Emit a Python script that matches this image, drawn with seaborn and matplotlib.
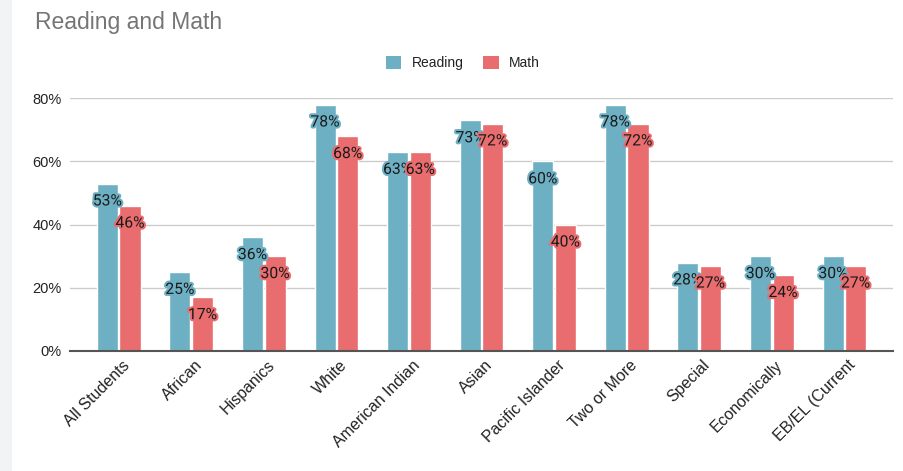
import matplotlib
matplotlib.use("Agg")
import matplotlib.pyplot as plt
import matplotlib.patheffects as pe
from matplotlib.patches import Patch, Rectangle
from matplotlib.transforms import ScaledTranslation
import pandas as pd
import seaborn as sns

# Proficiency rates (%) by student group
groups = ["All Students", "African", "Hispanics", "White", "American Indian",
          "Asian", "Pacific Islander", "Two or More", "Special",
          "Economically", "EB/EL (Current"]
reading = [53, 25, 36, 78, 63, 73, 60, 78, 28, 30, 30]
math = [46, 17, 30, 68, 63, 72, 40, 72, 27, 24, 27]
y_ticks = [0, 20, 40, 60, 80]

colors = {"Reading": "#6db0c3", "Math": "#e96c6e"}

df = pd.DataFrame({
    "Group": groups * 2,
    "Subject": ["Reading"] * len(groups) + ["Math"] * len(groups),
    "Score": reading + math,
})

sns.set_theme(style="white")
plt.rcParams["font.family"] = ["Liberation Sans", "DejaVu Sans"]

fig = plt.figure(figsize=(9.04, 4.71), dpi=100)
fig.patch.set_facecolor("white")
# light side strip on the left edge
fig.add_artist(Rectangle((0, 0), 12 / 904, 1, transform=fig.transFigure,
                         facecolor="#f1f3f4", edgecolor="none", zorder=0))

ax = fig.add_axes([70 / 904, 1 - 351 / 471, 823 / 904, (351 - 98.3) / 471])
sns.barplot(data=df, x="Group", y="Score", hue="Subject", order=groups,
            hue_order=["Reading", "Math"], palette=colors, width=0.624,
            gap=0.07, saturation=1, legend=False, ax=ax, zorder=3)

ax.set_xlim(-0.671, 10.67)
ax.set_ylim(0, 80)
ax.set_yticks(y_ticks)
ax.set_yticklabels([f"{t}%" for t in y_ticks], fontsize=10.5, color="#222222")
ax.yaxis.grid(True, color="#cccccc", linewidth=1, zorder=0)
ax.set_axisbelow(True)
for side in ["top", "right", "left"]:
    ax.spines[side].set_visible(False)
ax.spines["bottom"].set_color("#555555")
ax.spines["bottom"].set_linewidth(1.5)
ax.spines["bottom"].set_zorder(4)
ax.tick_params(axis="both", length=0)
ax.tick_params(axis="y", pad=6)
ax.set_xlabel("")
ax.set_ylabel("")

offset = ScaledTranslation(6 / 72, -5 / 72, fig.dpi_scale_trans)
for lbl in ax.get_xticklabels():
    lbl.set_rotation(45)
    lbl.set_ha("right")
    lbl.set_va("center")
    lbl.set_rotation_mode("anchor")
    lbl.set_fontsize(11.5)
    lbl.set_color("#222222")
    lbl.set_transform(lbl.get_transform() + offset)

# value labels with a halo in the bar colour
for container, values, name in zip(ax.containers, [reading, math], ["Reading", "Math"]):
    for bar, v in zip(container.patches, values):
        cx = bar.get_x() + bar.get_width() / 2
        ax.annotate(f"{v}%", (cx, v), xytext=(0, -12.5), textcoords="offset points",
                    ha="center", va="center", fontsize=11.3, color="#1a1a1a",
                    family=["Roboto", "DejaVu Sans"], zorder=6,
                    path_effects=[pe.withStroke(linewidth=3, foreground=colors[name])])

handles = [Patch(facecolor=colors[k], edgecolor="none") for k in ["Reading", "Math"]]
fig.legend(handles, ["Reading", "Math"], loc="center", bbox_to_anchor=(0.512, 1 - 63 / 471),
           ncol=2, frameon=False, fontsize=10, handlelength=1.1, handleheight=1.1,
           handletextpad=0.75, columnspacing=1.45, labelcolor="#222222")

fig.text(35 / 904, 1 - 29.3 / 471, "Reading and Math", fontsize=16.5, color="#757575",
         ha="left", va="baseline")

fig.savefig("out.png", dpi=100)
